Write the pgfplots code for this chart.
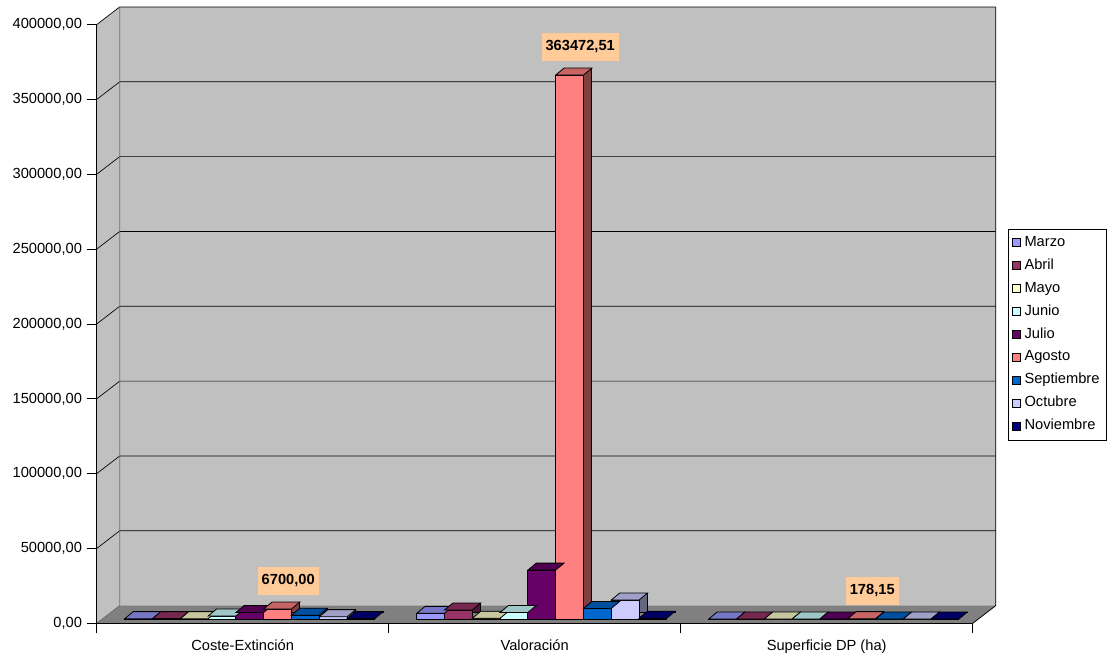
\documentclass[border=0pt]{standalone}
\usepackage{pgfplots}
\pgfplotsset{compat=1.18}
\usepackage{pgfplotstable}
\usepackage{fontspec}
\setmainfont{Liberation Sans}

\definecolor{cMarzo}{HTML}{9999FF}
\definecolor{cAbril}{HTML}{993366}
\definecolor{cMayo}{HTML}{FFFFCC}
\definecolor{cJunio}{HTML}{CCFFFF}
\definecolor{cJulio}{HTML}{660066}
\definecolor{cAgosto}{HTML}{FF8080}
\definecolor{cSeptiembre}{HTML}{0066CC}
\definecolor{cOctubre}{HTML}{CCCCFF}
\definecolor{cNoviembre}{HTML}{000080}
\definecolor{wallgray}{HTML}{C0C0C0}
\definecolor{floorgray}{HTML}{808080}
\definecolor{labelbg}{HTML}{FFCC99}

% top face of a 3D column (width 20.85pt, depth 6.3pt x 5.25pt)
\pgfdeclareplotmark{topface}{%
  \pgfpathmoveto{\pgfqpoint{-10.425pt}{0pt}}%
  \pgfpathlineto{\pgfqpoint{10.425pt}{0pt}}%
  \pgfpathlineto{\pgfqpoint{16.725pt}{5.25pt}}%
  \pgfpathlineto{\pgfqpoint{-4.125pt}{5.25pt}}%
  \pgfpathclose
  \pgfusepathqfillstroke}

\pgfplotstableread{
cat Marzo Abril Mayo Junio Julio Agosto Septiembre Octubre Noviembre lab
0 200 300 200 2000 4400 6700 2600 1500 300 6700,00
1 3800 6000 500 4400 32700 363472.51 7100 12700 600 363472,51
2 12.5 8.3 5.2 10.4 35.6 178.15 20.1 15.3 2.1 178,15
}\datatable

\newcommand{\drawseries}[3]{%
  \addplot[ybar, bar width=20.85pt, bar shift=0pt, fill=#3!50!black, draw=black,
    line width=0.6pt, xshift=6.3pt, yshift=8.45pt, forget plot]
    table[x expr=\thisrow{cat}+0.1435+0.0952*#2, y=#1] {\datatable};
  \addplot[only marks, mark=topface, mark options={fill=#3!78!black, draw=black,
    line width=0.6pt, solid}, yshift=3.2pt, forget plot]
    table[x expr=\thisrow{cat}+0.1435+0.0952*#2, y=#1] {\datatable};
  \addplot[ybar, bar width=20.85pt, bar shift=0pt, fill=#3, draw=black,
    line width=0.6pt, yshift=3.2pt, forget plot]
    table[x expr=\thisrow{cat}+0.1435+0.0952*#2, y=#1] {\datatable};
}

\begin{document}
\begin{tikzpicture}
\useasboundingbox (-72.5pt,-26.8pt) rectangle (761.5pt,467.5pt);
\begin{axis}[
  scale only axis, width=657pt, height=449pt,
  xmin=0, xmax=3, ymin=0, ymax=400000,
  clip=false, axis on top,
  axis x line*=bottom, axis y line*=left,
  axis line style={black, line width=0.6pt, -},
  tick align=outside, major tick length=7.5pt,
  tick style={black, line width=0.6pt},
  ytick={0,50000,100000,150000,200000,250000,300000,350000,400000},
  scaled y ticks=false,
  yticklabel style={/pgf/number format/.cd, fixed, fixed zerofill, precision=2, use comma, 1000 sep={}},
  /pgf/number format/assume math mode=true,
  tick label style={font=\fontsize{11}{13}\selectfont},
  xtick={0,1,2,3}, xticklabels={,,,},
  extra x ticks={0.5,1.5,2.5},
  extra x tick labels={Coste-Extinción,Valoración,Superficie DP (ha)},
  extra x tick style={major tick length=0pt, tick style={draw=none}},
  xticklabel style={yshift=-8.5pt},
  legend style={at={(1.0403,0.659)}, anchor=north west, draw=black, line width=0.6pt,
    fill=white, font=\fontsize{11}{13}\selectfont, inner xsep=3pt, inner ysep=5pt,
    row sep=6.7pt, nodes={inner xsep=2.5pt, inner ysep=0pt, text height=7.8pt, text depth=2.7pt},
    cells={anchor=west}},
  legend image code/.code={\draw[#1, draw=black, line width=0.6pt] (0pt,-3pt) rectangle (6pt,3pt);},
]
% walls and floor
\fill[wallgray] (axis cs:0,0) -- ([shift={(17.3pt,13.3pt)}]axis cs:0,0)
   -- ([shift={(17.3pt,13.3pt)}]axis cs:0,400000) -- (axis cs:0,400000) -- cycle;
\fill[wallgray] ([shift={(17.3pt,13.3pt)}]axis cs:0,0) rectangle ([shift={(17.3pt,13.3pt)}]axis cs:3,400000);
\fill[floorgray] (axis cs:0,0) -- (axis cs:3,0) -- ([shift={(17.3pt,13.3pt)}]axis cs:3,0)
   -- ([shift={(17.3pt,13.3pt)}]axis cs:0,0) -- cycle;
\pgfplotsinvokeforeach{50000,100000,150000,200000,250000,300000,350000,400000}{
  \draw[black, line width=0.5pt] (axis cs:0,#1) -- ([shift={(17.3pt,13.3pt)}]axis cs:0,#1)
     -- ([shift={(17.3pt,13.3pt)}]axis cs:3,#1);
}
\draw[black!60, line width=0.5pt] (axis cs:0,0) -- ([shift={(17.3pt,13.3pt)}]axis cs:0,0)
   -- ([shift={(17.3pt,13.3pt)}]axis cs:0,400000);
\draw[black, line width=0.6pt] (axis cs:3,0) -- ([shift={(17.3pt,13.3pt)}]axis cs:3,0)
   -- ([shift={(17.3pt,13.3pt)}]axis cs:3,400000);
% columns
\drawseries{Marzo}{0}{cMarzo}
\drawseries{Abril}{1}{cAbril}
\drawseries{Mayo}{2}{cMayo}
\drawseries{Junio}{3}{cJunio}
\drawseries{Julio}{4}{cJulio}
\drawseries{Agosto}{5}{cAgosto}
\drawseries{Septiembre}{6}{cSeptiembre}
\drawseries{Octubre}{7}{cOctubre}
\drawseries{Noviembre}{8}{cNoviembre}
% data labels
\addplot[draw=none, mark=none, forget plot, yshift=3.2pt, point meta=explicit symbolic,
  nodes near coords,
  every node near coord/.append style={anchor=south, fill=labelbg, text=black,
    font=\bfseries\fontsize{11}{13}\selectfont, inner xsep=3pt, inner ysep=0pt,
    minimum height=21pt, xshift=8pt, yshift=10.5pt}]
  table[x expr=\thisrow{cat}+0.1435+0.0952*5, y=Agosto, meta=lab] {\datatable};
% legend
\addlegendimage{fill=cMarzo}\addlegendentry{Marzo}
\addlegendimage{fill=cAbril}\addlegendentry{Abril}
\addlegendimage{fill=cMayo}\addlegendentry{Mayo}
\addlegendimage{fill=cJunio}\addlegendentry{Junio}
\addlegendimage{fill=cJulio}\addlegendentry{Julio}
\addlegendimage{fill=cAgosto}\addlegendentry{Agosto}
\addlegendimage{fill=cSeptiembre}\addlegendentry{Septiembre}
\addlegendimage{fill=cOctubre}\addlegendentry{Octubre}
\addlegendimage{fill=cNoviembre}\addlegendentry{Noviembre}
\end{axis}
\end{tikzpicture}
\end{document}
